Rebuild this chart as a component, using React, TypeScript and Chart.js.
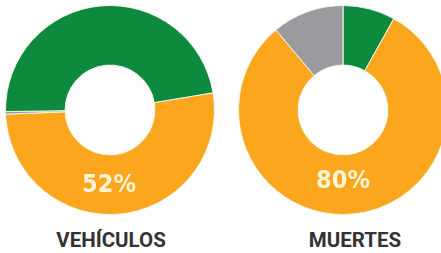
import React, { useEffect, useRef } from "react";
import { Chart, registerables } from "chart.js";

Chart.register(...registerables);

// Data
const vehiculosCategories = ["Otros", "Sin dato", "Motos"];
const vehiculosValues = [52, 0.4, 47.6];
const muertesCategories = ["Motos", "Otros", "Sin dato"];
const muertesValues = [8, 80, 11];
const chartTitles = ["VEHÍCULOS", "MUERTES"];
const highlightLabels = ["52%", "80%"];

const GREEN = "#0e8a3e";
const ORANGE = "#fba61c";
const GRAY = "#9b9b9f";

function Doughnut(props: {
  labels: string[];
  values: number[];
  colors: string[];
  rotation: number;
  style: React.CSSProperties;
}) {
  const ref = useRef<HTMLCanvasElement | null>(null);
  useEffect(() => {
    if (!ref.current) return;
    const chart = new Chart(ref.current, {
      type: "doughnut",
      data: {
        labels: props.labels,
        datasets: [
          {
            data: props.values,
            backgroundColor: props.colors,
            borderColor: "#eef7e4",
            borderWidth: 1,
          },
        ],
      },
      options: {
        responsive: false,
        animation: false,
        rotation: props.rotation,
        cutout: "43%",
        layout: { padding: 0 },
        plugins: { legend: { display: false }, tooltip: { enabled: false } },
      },
    });
    return () => chart.destroy();
  }, []);
  return <canvas ref={ref} width={210} height={210} style={{ position: "absolute", ...props.style }} />;
}

const pctStyle: React.CSSProperties = {
  position: "absolute",
  transform: "translate(-50%, -50%)",
  fontFamily: "'DejaVu Sans Condensed', 'DejaVu Sans', sans-serif",
  fontWeight: 700,
  fontSize: 25,
  color: "#fff4d8",
  lineHeight: 1,
  whiteSpace: "nowrap",
};

const titleStyle: React.CSSProperties = {
  position: "absolute",
  transform: "translate(-50%, -50%)",
  fontFamily: "Roboto, 'DejaVu Sans', sans-serif",
  fontWeight: 700,
  fontSize: 20.5,
  color: "#333333",
  lineHeight: 1,
  whiteSpace: "nowrap",
};

export default function App() {
  return (
    <div
      style={{
        position: "fixed",
        left: 0,
        top: 0,
        width: 441,
        height: 253,
        overflow: "hidden",
        background: "#ffffff",
      }}
    >
      <Doughnut
        labels={vehiculosCategories}
        values={vehiculosValues}
        colors={[ORANGE, GRAY, GREEN]}
        rotation={80.5}
        style={{ left: 5, top: 5 }}
      />
      <Doughnut
        labels={muertesCategories}
        values={muertesValues}
        colors={[GREEN, ORANGE, GRAY]}
        rotation={0}
        style={{ left: 238, top: 5 }}
      />
      <div style={{ ...pctStyle, left: 109, top: 183 }}>{highlightLabels[0]}</div>
      <div style={{ ...pctStyle, left: 343, top: 179 }}>{highlightLabels[1]}</div>
      <div style={{ ...titleStyle, left: 111, top: 240 }}>{chartTitles[0]}</div>
      <div style={{ ...titleStyle, left: 355, top: 240 }}>{chartTitles[1]}</div>
    </div>
  );
}
